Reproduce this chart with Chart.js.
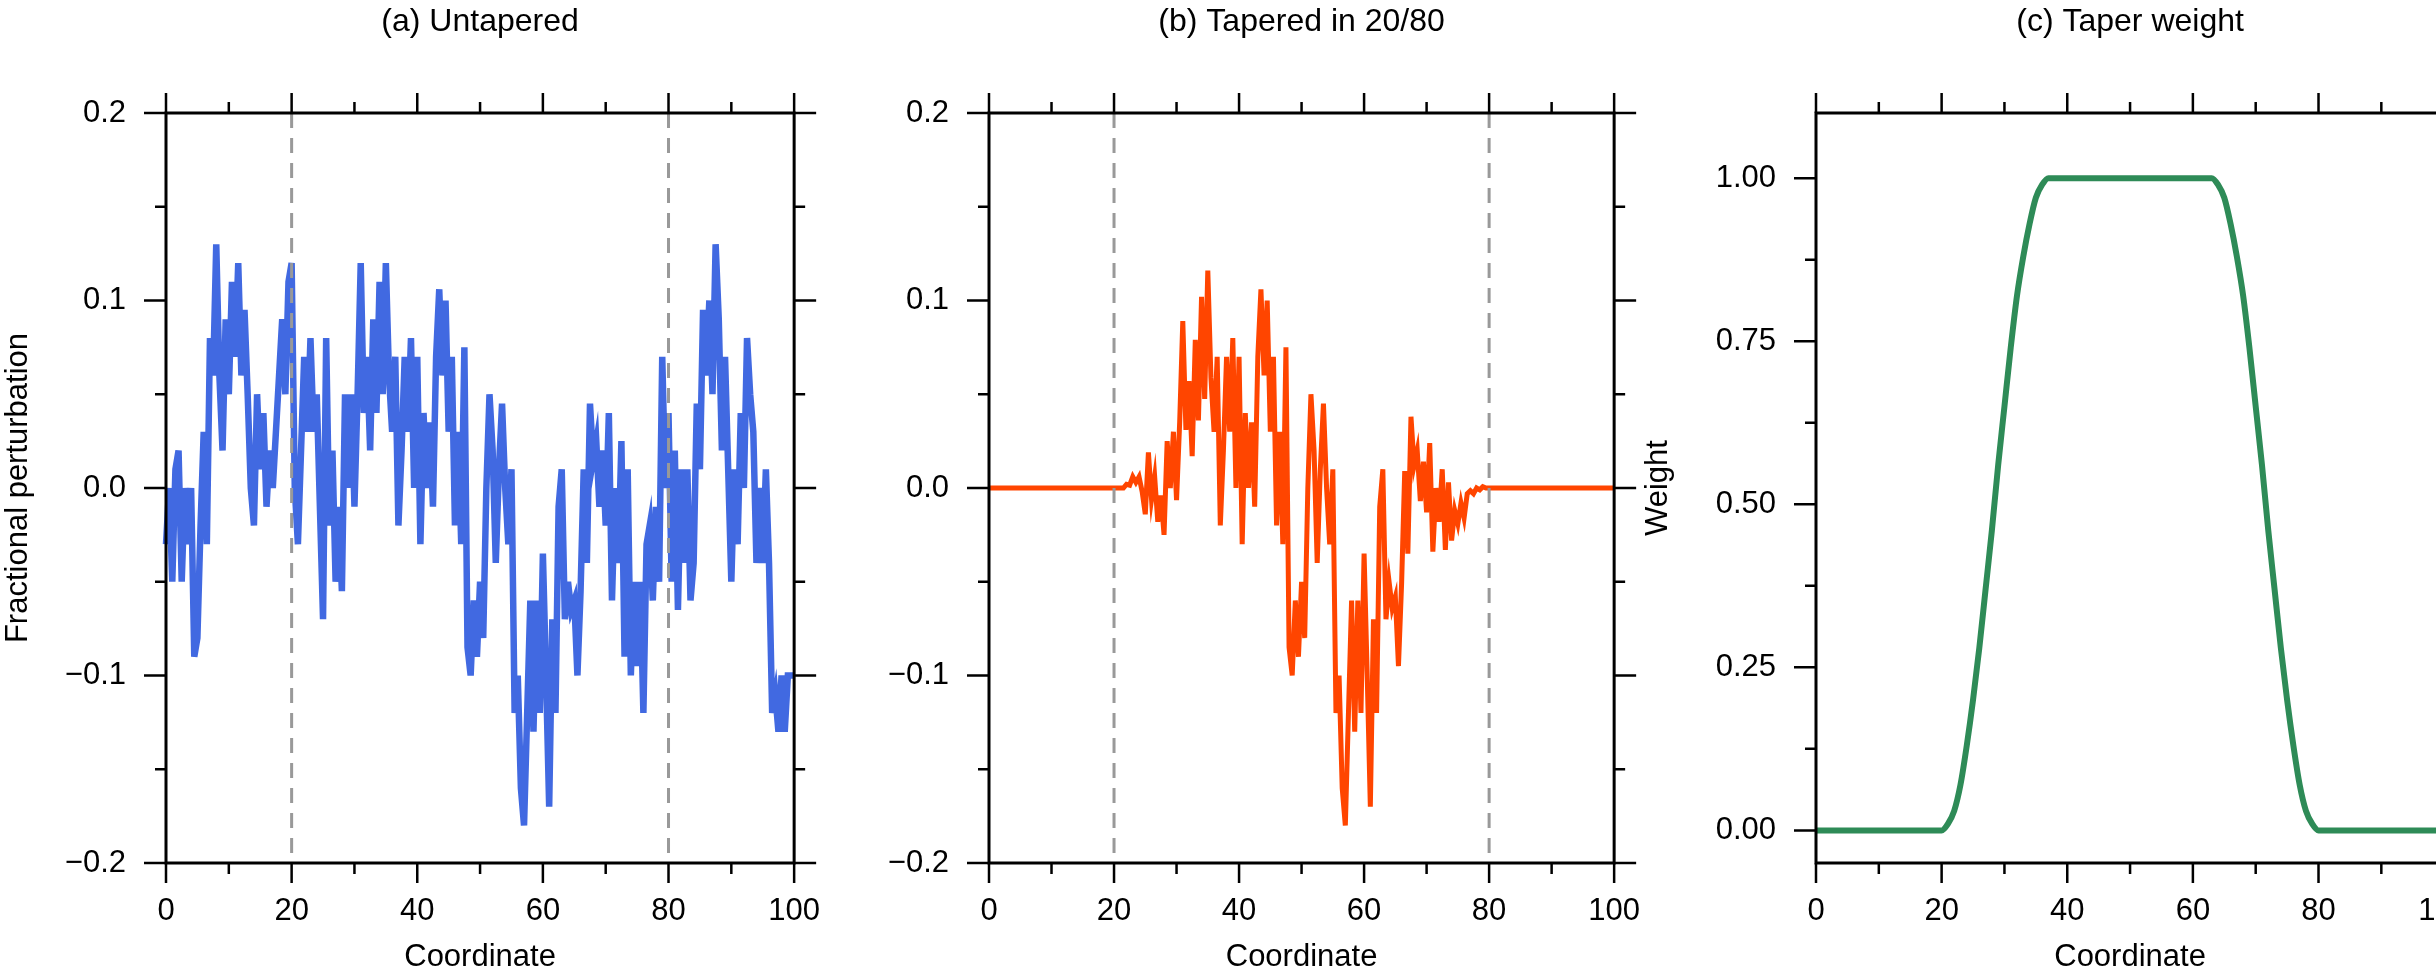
<!DOCTYPE html>
<html>
<head>
<meta charset="utf-8">
<script src="https://cdn.jsdelivr.net/npm/chart.js@4"></script>
<style>
  html, body { margin: 0; padding: 0; background: #fff; overflow: hidden; }
  body { width: 2436px; height: 978px; position: relative; }
  canvas { position: absolute; top: 0; }
</style>
</head>
<body>
<canvas id="ca" width="850" height="978" style="left:0px"></canvas>
<canvas id="cb" width="820" height="978" style="left:850px"></canvas>
<canvas id="cc" width="860" height="978" style="left:1640px"></canvas>
<script>
// ---- data ----
const titles = ["(a) Untapered", "(b) Tapered in 20/80", "(c) Taper weight"];
const xTicks = [0, 20, 40, 60, 80, 100];
const xMinor = [10, 30, 50, 70, 90];
const yTicksPert = [-0.2, -0.1, 0.0, 0.1, 0.2];
const yMinorPert = [-0.15, -0.05, 0.05, 0.15];
const yTicksWeight = [0, 0.25, 0.5, 0.75, 1.0];
const yMinorWeight = [0.125, 0.375, 0.625, 0.875];
const taperEdges = [20, 80];

// untapered perturbation, x = 0, 0.5, ... 100
const untaperedStep = 0.5;
const untapered = [
  -0.03, 0.0, -0.05, 0.01, 0.02, -0.05, 0.0, -0.03, 0.0, -0.09,
  -0.08, -0.02, 0.03, -0.03, 0.08, 0.06, 0.13, 0.06, 0.02, 0.09,
  0.05, 0.11, 0.07, 0.12, 0.06, 0.095, 0.05, 0.0, -0.02, 0.05,
  0.01, 0.04, -0.01, 0.02, 0.0, 0.03, 0.06, 0.09, 0.05, 0.11,
  0.12, 0.0, -0.03, 0.02, 0.07, 0.03, 0.08, 0.03, 0.05, -0.01,
  -0.07, 0.08, -0.02, 0.02, -0.05, -0.01, -0.055, 0.05, 0.0, 0.05,
  -0.01, 0.05, 0.12, 0.04, 0.07, 0.02, 0.09, 0.04, 0.11, 0.05,
  0.12, 0.06, 0.03, 0.07, -0.02, 0.02, 0.07, 0.03, 0.08, 0.0,
  0.07, -0.03, 0.04, 0.0, 0.035, -0.01, 0.07, 0.106, 0.06, 0.1,
  0.03, 0.07, -0.02, 0.03, -0.03, 0.075, -0.085, -0.1, -0.06, -0.09,
  -0.05, -0.08, 0.0, 0.05, 0.02, -0.04, 0.01, 0.045, 0.0, -0.03,
  0.01, -0.12, -0.1, -0.16, -0.18, -0.12, -0.06, -0.13, -0.06, -0.12,
  -0.035, -0.1, -0.17, -0.07, -0.12, -0.01, 0.01, -0.07, -0.05, -0.065,
  -0.06, -0.1, -0.055, 0.01, -0.04, 0.045, 0.015, 0.025, -0.01, 0.02,
  -0.02, 0.04, -0.06, 0.0, -0.04, 0.025, -0.09, 0.01, -0.1, -0.05,
  -0.095, -0.05, -0.12, -0.03, -0.02, -0.06, -0.01, -0.05, 0.07, 0.0,
  0.04, -0.05, 0.02, -0.065, 0.01, -0.04, 0.01, -0.06, -0.04, 0.045,
  0.01, 0.095, 0.06, 0.1, 0.05, 0.13, 0.09, 0.02, 0.07, 0.01,
  -0.05, 0.01, -0.03, 0.04, 0.0, 0.08, 0.05, 0.03, -0.04, 0.0,
  -0.04, 0.01, -0.04, -0.12, -0.11, -0.13, -0.1, -0.13, -0.1, -0.1,
  -0.1
];

// tapered perturbation: flat zero outside, values at 20, 20.5, ... 80
const taperedStart = 20;
const taperedStep = 0.5;
const tapered = [
  0, 0, 0, 0, 0.002, 0.0015, 0.006, 0.003, 0.006, -0.002,
  -0.014, 0.019, -0.006, 0.006, -0.018, -0.004, -0.025, 0.025, 0.0, 0.03,
  -0.0065, 0.035, 0.089, 0.031, 0.057, 0.017, 0.079, 0.036, 0.102, 0.0475,
  0.116, 0.059, 0.03, 0.07, -0.02, 0.02, 0.07, 0.03, 0.08, 0.0,
  0.07, -0.03, 0.04, 0.0, 0.035, -0.01, 0.07, 0.106, 0.06, 0.1,
  0.03, 0.07, -0.02, 0.03, -0.03, 0.075, -0.085, -0.1, -0.06, -0.09,
  -0.05, -0.08, 0.0, 0.05, 0.02, -0.04, 0.01, 0.045, 0.0, -0.03,
  0.01, -0.12, -0.1, -0.16, -0.18, -0.12, -0.06, -0.13, -0.06, -0.12,
  -0.035, -0.1, -0.17, -0.07, -0.12, -0.01, 0.01, -0.07, -0.05, -0.064,
  -0.058, -0.095, -0.051, 0.009, -0.035, 0.038, 0.012, 0.02, -0.007, 0.014,
  -0.013, 0.024, -0.034, 0.0, -0.018, 0.01, -0.033, 0.003, -0.028, -0.012,
  -0.019, -0.008, -0.016, -0.003, -0.0014, -0.003, 0, -0.001, 0.0007, 0,
  0
];

// taper weight
const weightX = [0, 20, 21, 22, 23, 24, 25, 26, 27, 28, 29, 30, 31, 32, 33, 34, 35, 36, 37, 38,
  62, 63, 64, 65, 66, 67, 68, 69, 70, 71, 72, 73, 74, 75, 76, 77, 78, 79, 80, 100];
const weightY = [0, 0, 0.01, 0.03, 0.07, 0.13, 0.2, 0.28, 0.37, 0.46, 0.56, 0.65, 0.74, 0.82, 0.88, 0.93, 0.97, 0.99, 1.0, 1.0,
  1.0, 1.0, 0.99, 0.97, 0.93, 0.88, 0.82, 0.74, 0.65, 0.56, 0.46, 0.37, 0.28, 0.2, 0.13, 0.07, 0.03, 0.01, 0, 0];

// ---- drawing ----
const FONT = "'Liberation Sans', Arial, Helvetica, sans-serif";
Chart.defaults.font.family = FONT;
Chart.defaults.color = "#000";

const fmt = (d) => (v) => {
  let s = Math.abs(v) < 1e-9 ? (0).toFixed(d) : v.toFixed(d);
  return s.replace("-", "\u2212");
};

const framePlugin = {
  id: "frame",
  afterDatasetsDraw(chart, args, o) {
    const { ctx, chartArea: a, scales } = chart;
    const x = scales.x, y = scales.y;
    ctx.save();
    // dashed taper edges
    if (o.dashes) {
      ctx.strokeStyle = "#999";
      ctx.lineWidth = 3;
      ctx.setLineDash([15, 10]);
      o.dashes.forEach(v => {
        const px = x.getPixelForValue(v);
        ctx.beginPath(); ctx.moveTo(px, a.top); ctx.lineTo(px, a.bottom); ctx.stroke();
      });
      ctx.setLineDash([]);
    }
    ctx.strokeStyle = "#000";
    ctx.lineWidth = 3;
    ctx.strokeRect(a.left, a.top, a.right - a.left, a.bottom - a.top);
    ctx.lineWidth = 2.5;
    const tick = (vals, len) => {
      vals.forEach(v => {
        const px = x.getPixelForValue(v);
        ctx.beginPath();
        ctx.moveTo(px, a.top); ctx.lineTo(px, a.top - len);
        ctx.moveTo(px, a.bottom); ctx.lineTo(px, a.bottom + len);
        ctx.stroke();
      });
    };
    const ytick = (vals, len) => {
      vals.forEach(v => {
        const py = y.getPixelForValue(v);
        ctx.beginPath();
        ctx.moveTo(a.left, py); ctx.lineTo(a.left - len, py);
        ctx.moveTo(a.right, py); ctx.lineTo(a.right + len, py);
        ctx.stroke();
      });
    };
    tick(xTicks, 20); tick(xMinor, 11);
    ytick(o.yMajor, 22); ytick(o.yMinor, 11);
    // panel title
    ctx.fillStyle = "#000";
    ctx.font = "32px " + FONT;
    ctx.textAlign = "center";
    ctx.textBaseline = "middle";
    ctx.fillText(o.title, (a.left + a.right) / 2, 22);
    ctx.restore();
  }
};

function makeChart(id, cfg) {
  new Chart(document.getElementById(id), {
    type: "line",
    data: { datasets: [{
      data: cfg.points,
      borderColor: cfg.color,
      borderWidth: cfg.lineWidth,
      pointRadius: 0,
      tension: 0,
      cubicInterpolationMode: cfg.smooth ? "monotone" : "default",
      fill: false
    }] },
    options: {
      responsive: false,
      animation: false,
      devicePixelRatio: 1,
      parsing: false,
      clip: false,
      layout: { padding: { left: 0, right: cfg.padRight, top: 113, bottom: 0 } },
      scales: {
        x: {
          type: "linear", min: 0, max: 100,
          grid: { display: false, drawTicks: false },
          border: { display: false },
          afterBuildTicks: (s) => { s.ticks = xTicks.map(v => ({ value: v })); },
          afterFit: (s) => { s.height = 115; },
          ticks: { padding: 30, font: { size: 31 }, maxRotation: 0, callback: (v) => String(v) },
          title: { display: true, text: "Coordinate", font: { size: 31 }, padding: { top: 0, bottom: 2 } }
        },
        y: {
          type: "linear", min: cfg.yMin, max: cfg.yMax,
          grid: { display: false, drawTicks: false },
          border: { display: false },
          afterBuildTicks: (s) => { s.ticks = cfg.yMajor.map(v => ({ value: v })); },
          afterFit: (s) => { s.width = cfg.yWidth; },
          ticks: { padding: 40, font: { size: 31 }, callback: fmt(cfg.dec) },
          title: { display: !!cfg.yTitle, text: cfg.yTitle || "", font: { size: 31 }, padding: 0 }
        }
      },
      plugins: {
        legend: { display: false },
        tooltip: { enabled: false },
        frame: { title: cfg.title, yMajor: cfg.yMajor, yMinor: cfg.yMinor, dashes: cfg.dashes }
      }
    },
    plugins: [framePlugin]
  });
}

const ptsA = untapered.map((v, i) => ({ x: i * untaperedStep, y: v }));
const ptsB = [{ x: 0, y: 0 }]
  .concat(tapered.map((v, i) => ({ x: taperedStart + i * taperedStep, y: v })))
  .concat([{ x: 100, y: 0 }]);
const ptsC = weightX.map((x, i) => ({ x, y: weightY[i] }));

makeChart("ca", { points: ptsA, color: "#4169E1", lineWidth: 6.5, yMin: -0.2, yMax: 0.2,
  yMajor: yTicksPert, yMinor: yMinorPert, dec: 1, yWidth: 166, padRight: 39,
  yTitle: "Fractional perturbation", title: titles[0], dashes: taperEdges });
makeChart("cb", { points: ptsB, color: "#FF4500", lineWidth: 5, yMin: -0.2, yMax: 0.2,
  yMajor: yTicksPert, yMinor: yMinorPert, dec: 1, yWidth: 139, padRight: 38,
  title: titles[1], dashes: taperEdges });
makeChart("cc", { points: ptsC, color: "#2E8B57", lineWidth: 6, yMin: -0.05, yMax: 1.10, smooth: true,
  yMajor: yTicksWeight, yMinor: yMinorWeight, dec: 2, yWidth: 176, padRight: 39,
  yTitle: "Weight", title: titles[2] });
</script>
</body>
</html>
